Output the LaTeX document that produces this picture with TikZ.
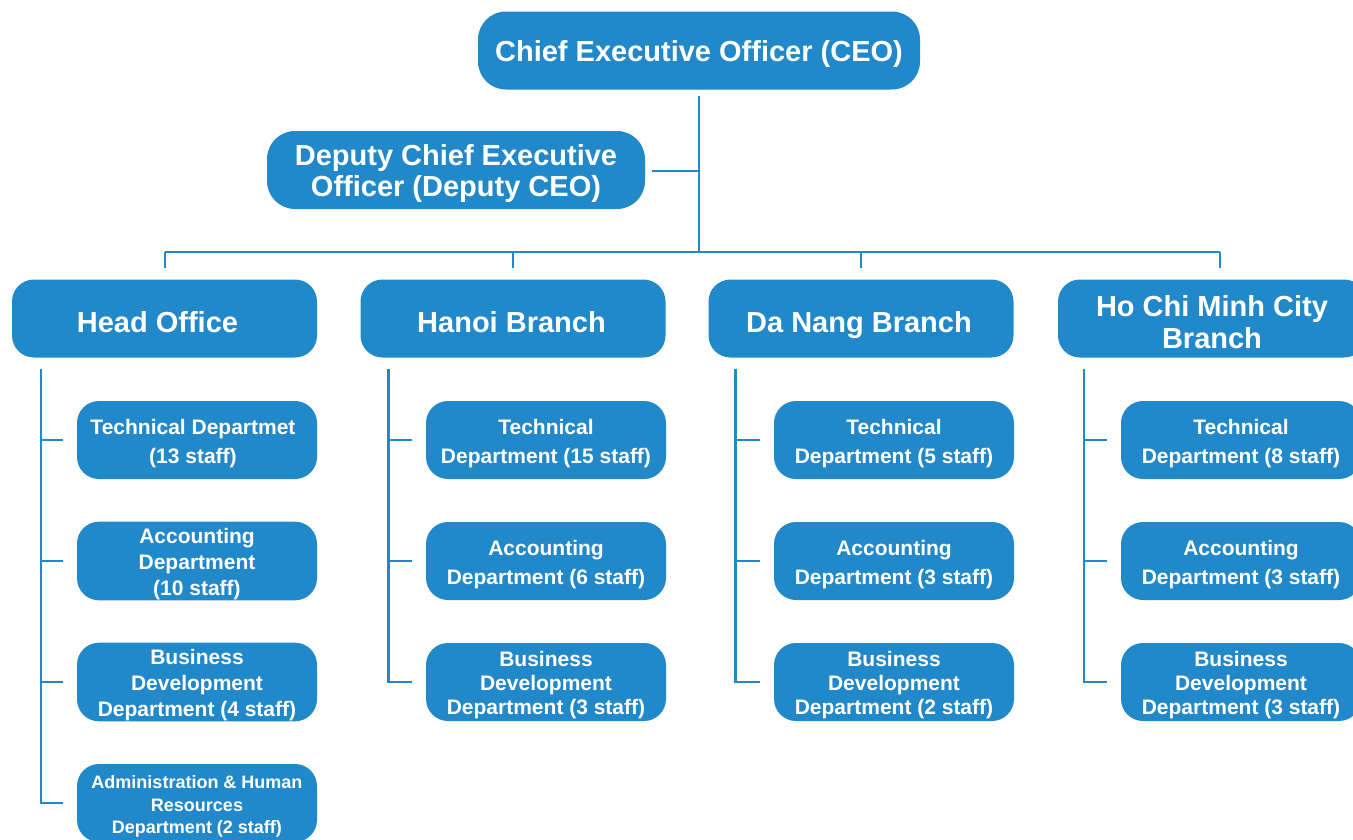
\documentclass[tikz,border=0pt]{standalone}
\usepackage{fontspec}
\setmainfont{Liberation Sans}
\usetikzlibrary{calc}
\definecolor{boxblue}{RGB}{33,136,201}
\newcommand{\ls}{\rule{0pt}{\dimexpr0.75em+6.5pt\relax}}
\begin{document}
\begin{tikzpicture}[x=1pt,y=-1pt,
  box/.style={fill=boxblue, rounded corners=22pt, text=white, align=center, inner sep=0pt},
  big/.style={box, minimum height=78pt, font=\fontsize{29}{31}\selectfont\bfseries},
  branch/.style={big, minimum width=305pt},
  sub/.style={box, minimum width=240pt, minimum height=78pt, font=\fontsize{21}{29.5}\selectfont\bfseries},
  subthree/.style={sub, font=\fontsize{21}{26}\selectfont\bfseries},
  link/.style={draw=boxblue, line width=2.5pt}]
\useasboundingbox (0,0) rectangle (1353,839);
\fill[white] (0,0) rectangle (1353,839);
\clip (0,0) rectangle (1353,839);

\node[big, minimum width=442pt, rounded corners=28pt] (ceo) at (699,50.5) {\ls Chief Executive Officer (CEO)};
\node[big, minimum width=378pt, rounded corners=28pt] (dep) at (456,170) {\ls Deputy Chief Executive\\Officer (Deputy CEO)};

\node[branch] (ho) at (164.5,318.5) {\ls Head Office\hspace*{14pt}};
\node[branch] (hn) at (513,318.5) {\ls Hanoi Branch\hspace*{3pt}};
\node[branch] (dn) at (861,318.5) {\ls \raisebox{0pt}[\height][0pt]{Da Nang Branch}\hspace*{4pt}};
\node[branch, minimum width=308pt, font=\fontsize{29}{32}\selectfont\bfseries] (hcm) at (1212,318.5) {\ls Ho Chi Minh City\\Branch};

% Head Office departments
\node[sub] (ho1) at (197,440) {\ls Technical Departmet\hspace*{8pt}\\(13 staff)\hspace*{8pt}};
\node[subthree] (ho2) at (197,561) {\ls Accounting\\Department\\(10 staff)};
\node[subthree] (ho3) at (197,682) {\ls Business\\Development\\Department (4 staff)};
\node[sub, font=\fontsize{18}{22.5}\selectfont\bfseries] (ho4) at (197,803) {\ls Administration \& Human\\Resources\\Department (2 staff)};

% Hanoi
\node[sub] (hn1) at (546,440) {\ls Technical\\Department (15 staff)};
\node[sub] (hn2) at (546,561) {\ls Accounting\\Department (6 staff)};
\node[subthree, font=\fontsize{21}{24}\selectfont\bfseries] (hn3) at (546,682) {\ls Business\\Development\\Department (3 staff)};

% Da Nang
\node[sub] (dn1) at (894,440) {\ls Technical\\Department (5 staff)};
\node[sub] (dn2) at (894,561) {\ls Accounting\\Department (3 staff)};
\node[subthree, font=\fontsize{21}{24}\selectfont\bfseries] (dn3) at (894,682) {\ls Business\\Development\\Department (2 staff)};

% HCMC
\node[sub] (hc1) at (1241,440) {\ls Technical\\Department (8 staff)};
\node[sub] (hc2) at (1241,561) {\ls Accounting\\Department (3 staff)};
\node[subthree, font=\fontsize{21}{24}\selectfont\bfseries] (hc3) at (1241,682) {\ls Business\\Development\\Department (3 staff)};

% top connectors
\coordinate (bus) at (699,252);
\coordinate (busl) at (165,252);
\coordinate (busr) at (1220,252);
\draw[link] ($(ceo.south)+(0,6)$) -- (bus);
\draw[link] ($(dep.east)+(7,1)$) -- ($(dep.east -| bus)+(0,1)$);
\draw[link] (busl) -- (busr);
\draw[link] (busl) -- ($(busl)+(0,16)$);
\draw[link] (hn.north |- bus) -- ++(0,16);
\draw[link] (dn.north |- bus) -- ++(0,16);
\draw[link] (busr) -- ($(busr)+(0,16)$);

% branch trunks
\coordinate (hot) at ($(ho.south west)+(29,11)$);
\draw[link] (hot) |- ($(ho4.west)+(-14,0)$);
\foreach \i in {1,2,3} {\draw[link] (hot |- ho\i.west) -- ($(ho\i.west)+(-14,0)$);}

\coordinate (hnt) at ($(hn.south west)+(28,11)$);
\draw[link] (hnt) |- ($(hn3.west)+(-14,0)$);
\foreach \i in {1,2} {\draw[link] (hnt |- hn\i.west) -- ($(hn\i.west)+(-14,0)$);}

\coordinate (dnt) at ($(dn.south west)+(27,11)$);
\draw[link] (dnt) |- ($(dn3.west)+(-14,0)$);
\foreach \i in {1,2} {\draw[link] (dnt |- dn\i.west) -- ($(dn\i.west)+(-14,0)$);}

\coordinate (hct) at ($(hcm.south west)+(26,11)$);
\draw[link] (hct) |- ($(hc3.west)+(-14,0)$);
\foreach \i in {1,2} {\draw[link] (hct |- hc\i.west) -- ($(hc\i.west)+(-14,0)$);}
\end{tikzpicture}
\end{document}
